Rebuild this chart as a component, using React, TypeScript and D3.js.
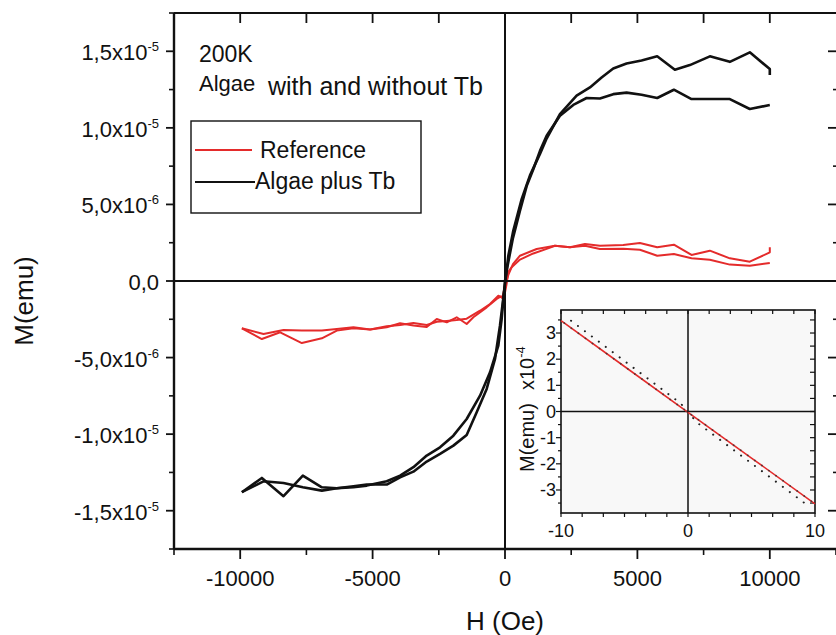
import React from 'react';
import * as d3 from 'd3';

const FONT = '"Liberation Sans", Arial, Helvetica, sans-serif';
const RED = '#e42b2b';
const BLACK = '#111111';

// ---- main data: H in Oe, M in units of 1e-6 emu ----
const blackA_H = [-9937, -9182, -8365, -7634, -6917, -6351, -5723, -5220, -4466, -3962, -3459, -2956, -2453, -1950, -1447, -1069, -692, -377, -189, 0, 126, 314, 629, 943, 1321, 1572, 2075, 2704, 3208, 3648, 4088, 4591, 5157, 5747, 6415, 6981, 7736, 8491, 9245, 10000, 10000];
const blackA_M = [-13.79, -12.86, -14.05, -12.71, -13.47, -13.53, -13.4, -13.29, -13.29, -12.82, -12.45, -11.79, -11.29, -10.75, -10.05, -8.57, -7.05, -5.09, -2.9, -0.2, 1.65, 3.3, 5.35, 6.9, 8.3, 9.3, 10.9, 12.1, 12.64, 13.29, 13.88, 14.2, 14.4, 14.67, 13.79, 14.1, 14.67, 14.31, 14.93, 13.84, 13.45];

const blackB_H = [-9937, -9119, -8365, -7634, -6917, -6351, -5723, -5220, -4466, -3962, -3459, -2956, -2453, -1950, -1447, -943, -566, -252, -126, 0, 87, 300, 566, 818, 1069, 1321, 1572, 2075, 2579, 3082, 3585, 4088, 4591, 5157, 5748, 6377, 7044, 7736, 8491, 9245, 10000];
const blackB_M = [-13.79, -13.08, -13.19, -13.47, -13.69, -13.53, -13.47, -13.36, -13.08, -12.71, -12.16, -11.4, -10.86, -10.1, -9.01, -7.49, -5.96, -4.22, -2.48, 0, 0.9, 2.8, 4.6, 6.2, 7.3, 8.5, 9.48, 10.79, 11.5, 11.95, 11.92, 12.2, 12.3, 12.16, 11.95, 12.49, 11.88, 11.88, 11.88, 11.23, 11.49];

const redA_H = [-9937, -9182, -8491, -7672, -6917, -6351, -5723, -5094, -4466, -3962, -3459, -2956, -2578, -2200, -1824, -1447, -1195, -692, -314, -150, -50, 60, 126, 252, 566, 1069, 1572, 1887, 2453, 3019, 3585, 4465, 5094, 5748, 6377, 7044, 7736, 8491, 9245, 10000, 10000];
const redA_M = [-3.09, -3.79, -3.35, -4.05, -3.74, -3.24, -3.09, -3.16, -3.02, -2.76, -2.9, -3.0, -2.48, -2.7, -2.37, -2.81, -2.37, -1.72, -1.17, -1.0, -1.2, -0.2, 0.6, 0.9, 1.4, 1.8, 2.1, 2.3, 2.2, 2.42, 2.3, 2.35, 2.48, 2.2, 2.37, 1.7, 1.98, 1.48, 1.26, 1.87, 2.2];

const redB_H = [-9937, -9119, -8365, -7672, -6917, -6351, -5723, -5094, -4466, -3962, -3459, -2956, -2578, -2200, -1824, -1447, -943, -566, -252, -100, 0, 126, 300, 566, 1196, 1887, 2453, 3019, 3585, 4465, 5094, 5748, 6377, 7044, 7736, 8491, 9245, 10000];
const redB_M = [-3.09, -3.46, -3.2, -3.24, -3.24, -3.13, -3.02, -3.16, -2.96, -2.87, -2.74, -2.87, -2.66, -2.61, -2.55, -2.46, -1.94, -1.5, -0.96, -1.1, -0.3, 0.4, 1.1, 1.65, 2.09, 2.3, 2.2, 2.3, 2.09, 2.11, 2.04, 1.65, 1.76, 1.48, 1.39, 1.07, 1.0, 1.17];

// ---- axis ticks ----
const xMajorTicks = [-10000, -5000, 0, 5000, 10000];
const xTickLabels = ['-10000', '-5000', '0', '5000', '10000'];
const xMinorTicks = [-12500, -7500, -2500, 2500, 7500, 12500];
const yMajorTicks = [-15, -10, -5, 0, 5, 10, 15];
const yTickBase = ['-1,5x10', '-1,0x10', '-5,0x10', '0,0', '5,0x10', '1,0x10', '1,5x10'];
const yTickExp = ['-5', '-5', '-6', '', '-6', '-5', '-5'];
const yMinorTicks = [-17.5, -12.5, -7.5, -2.5, 2.5, 7.5, 12.5, 17.5];

// ---- inset data: field in kOe, M in 1e-4 emu ----
const insetRed_H = [-10, -5, 0, 5, 10];
const insetRed_M = [3.47, 1.72, -0.03, -1.78, -3.53];
const insetDot_H = [-9.21, -0.6, 0.7, 9.34];
const insetDot_M = [3.47, 0.32, -0.42, -3.56];
const insetYTicks = [-3, -2, -1, 0, 1, 2, 3];
const insetXTicks = [-10, 0, 10];

export default function App() {
  const W = 836, H = 635;
  const x = d3.scaleLinear().domain([-12500, 12500]).range([174, 836]);
  const y = d3.scaleLinear().domain([-17.5, 17.5]).range([549, 13]);
  const line = d3.line<[number, number]>().x(d => x(d[0])).y(d => y(d[1]));
  const mk = (hs: number[], ms: number[]) => line(hs.map((h, i) => [h, ms[i]] as [number, number])) || '';

  const left = x(-12500), right = x(12500), top = y(17.5), bottom = y(-17.5);

  // inset
  const ix = d3.scaleLinear().domain([-10, 10]).range([561, 815]);
  const iy = d3.scaleLinear().domain([-3.88, 3.88]).range([513, 310]);
  const iline = d3.line<[number, number]>().x(d => ix(d[0])).y(d => iy(d[1]));
  const imk = (hs: number[], ms: number[]) => iline(hs.map((h, i) => [h, ms[i]] as [number, number])) || '';
  const insetXMinor = d3.range(0, 13).map(i => -10 + (i * 20) / 12);
  const insetYMinor = d3.range(-7, 8).map(i => i * 0.5);

  const topTicks = [...xMajorTicks, -7500, -2500, 2500, 7500];

  return (
    <svg width={W} height={H} style={{ position: 'absolute', left: 0, top: 0, display: 'block', background: '#fff' }} fontFamily={FONT}>
      <rect x={0} y={0} width={W} height={H} fill="#fff" />

      {/* curves */}
      <path d={mk(redA_H, redA_M)} fill="none" stroke={RED} strokeWidth={2} strokeLinejoin="round" />
      <path d={mk(redB_H, redB_M)} fill="none" stroke={RED} strokeWidth={2} strokeLinejoin="round" />
      <path d={mk(blackA_H, blackA_M)} fill="none" stroke={BLACK} strokeWidth={2.6} strokeLinejoin="round" />
      <path d={mk(blackB_H, blackB_M)} fill="none" stroke={BLACK} strokeWidth={2.6} strokeLinejoin="round" />

      {/* zero lines */}
      <line x1={x(0)} x2={x(0)} y1={top} y2={bottom} stroke={BLACK} strokeWidth={2} />
      <line x1={left} x2={right} y1={y(0)} y2={y(0)} stroke={BLACK} strokeWidth={2} />

      {/* frame */}
      <line x1={left} x2={right} y1={top} y2={top} stroke={BLACK} strokeWidth={2} />
      <line x1={left} x2={right} y1={bottom} y2={bottom} stroke={BLACK} strokeWidth={2.4} />
      <line x1={left} x2={left} y1={top} y2={bottom} stroke={BLACK} strokeWidth={2.4} />

      {/* bottom ticks */}
      {xMajorTicks.map(t => (
        <line key={'bM' + t} x1={x(t)} x2={x(t)} y1={bottom} y2={bottom + 10} stroke={BLACK} strokeWidth={1.8} />
      ))}
      {xMinorTicks.map(t => (
        <line key={'bm' + t} x1={x(t)} x2={x(t)} y1={bottom} y2={bottom + 6} stroke={BLACK} strokeWidth={1.6} />
      ))}
      {xMajorTicks.map((t, i) => (
        <text key={'bl' + t} x={x(t)} y={586} fontSize={22} textAnchor="middle" fill={BLACK}>{xTickLabels[i]}</text>
      ))}
      {/* top ticks */}
      {topTicks.map(t => (
        <line key={'t' + t} x1={x(t)} x2={x(t)} y1={top} y2={top + 10} stroke={BLACK} strokeWidth={1.8} />
      ))}
      {/* left ticks */}
      {yMajorTicks.map(t => (
        <line key={'lM' + t} x1={left - 8} x2={left} y1={y(t)} y2={y(t)} stroke={BLACK} strokeWidth={1.8} />
      ))}
      {yMinorTicks.map(t => (
        <line key={'lm' + t} x1={left - 5} x2={left} y1={y(t)} y2={y(t)} stroke={BLACK} strokeWidth={1.6} />
      ))}
      {/* right ticks */}
      {yMajorTicks.map(t => (
        <line key={'rM' + t} x1={828} x2={836} y1={y(t)} y2={y(t)} stroke={BLACK} strokeWidth={1.8} />
      ))}
      {yMinorTicks.map(t => (
        <line key={'rm' + t} x1={833} x2={836} y1={y(t)} y2={y(t)} stroke={BLACK} strokeWidth={1.6} />
      ))}
      {yMajorTicks.map((t, i) => (
        <text key={'yl' + t} x={159} y={y(t) + 9} fontSize={22} textAnchor="end" fill={BLACK}>
          {yTickBase[i]}
          {yTickExp[i] ? <tspan fontSize={13} dy={-9}>{yTickExp[i]}</tspan> : null}
        </text>
      ))}

      {/* axis titles */}
      <text x={505} y={630} fontSize={26} textAnchor="middle" fill={BLACK}>H (Oe)</text>
      <text transform="translate(33,301) rotate(-90)" fontSize={26} textAnchor="middle" fill={BLACK}>M(emu)</text>

      {/* annotation */}
      <text x={199} y={62} fontSize={23} fill={BLACK}>200K</text>
      <text x={199} y={91} fontSize={22} fill={BLACK}>Algae</text>
      <text x={268} y={95} fontSize={25} fill={BLACK}>with and without Tb</text>

      {/* legend */}
      <rect x={191} y={121} width={230} height={92} fill="none" stroke={BLACK} strokeWidth={1.4} />
      <line x1={195} x2={252} y1={150} y2={150} stroke={RED} strokeWidth={2} />
      <text x={260} y={158} fontSize={23} fill={BLACK}>Reference</text>
      <line x1={195} x2={255} y1={182} y2={182} stroke={BLACK} strokeWidth={2} />
      <text x={255} y={189} fontSize={23} fill={BLACK}>Algae plus Tb</text>

      {/* inset */}
      <rect x={ix(-10)} y={iy(3.88)} width={ix(10) - ix(-10)} height={iy(-3.88) - iy(3.88)} fill="#f8f8f8" stroke={BLACK} strokeWidth={1.6} />
      <line x1={ix(0)} x2={ix(0)} y1={iy(3.88)} y2={iy(-3.88)} stroke={BLACK} strokeWidth={1.5} />
      <line x1={ix(-10)} x2={ix(10)} y1={iy(0)} y2={iy(0)} stroke={BLACK} strokeWidth={1.5} />
      {insetXMinor.map((t, i) => (
        <g key={'ixt' + i}>
          <line x1={ix(t)} x2={ix(t)} y1={iy(3.88)} y2={iy(3.88) + 4} stroke={BLACK} strokeWidth={1.2} />
          <line x1={ix(t)} x2={ix(t)} y1={iy(-3.88)} y2={iy(-3.88) + 4} stroke={BLACK} strokeWidth={1.2} />
        </g>
      ))}
      {insetYMinor.map((t, i) => (
        <g key={'iyt' + i}>
          <line x1={ix(-10) - (Number.isInteger(t) ? 5 : 3)} x2={ix(-10)} y1={iy(t)} y2={iy(t)} stroke={BLACK} strokeWidth={1.2} />
          <line x1={ix(10) - 5} x2={ix(10)} y1={iy(t)} y2={iy(t)} stroke={BLACK} strokeWidth={1.2} />
        </g>
      ))}
      <path d={imk(insetRed_H, insetRed_M)} fill="none" stroke={RED} strokeWidth={1.6} />
      <path d={imk(insetRed_H, insetRed_M)} fill="none" stroke="#333" strokeWidth={1.8} strokeDasharray="0.1 8.6" strokeDashoffset={-4} strokeLinecap="round" opacity={0.8} />
      <path d={imk(insetDot_H, insetDot_M)} fill="none" stroke="#222" strokeWidth={2} strokeDasharray="0.1 8.6" strokeLinecap="round" />
      {insetYTicks.map(t => (
        <text key={'iyl' + t} x={556} y={iy(t) + 6} fontSize={18} textAnchor="end" fill={BLACK}>{String(t)}</text>
      ))}
      {insetXTicks.map(t => (
        <text key={'ixl' + t} x={ix(t)} y={537} fontSize={18} textAnchor="middle" fill={BLACK}>{String(t)}</text>
      ))}
      <text transform="translate(534,472) rotate(-90)" fontSize={20} fill={BLACK}>
        M(emu)<tspan dx={13}>x10</tspan><tspan fontSize={13} dy={-9}>-4</tspan>
      </text>
    </svg>
  );
}
